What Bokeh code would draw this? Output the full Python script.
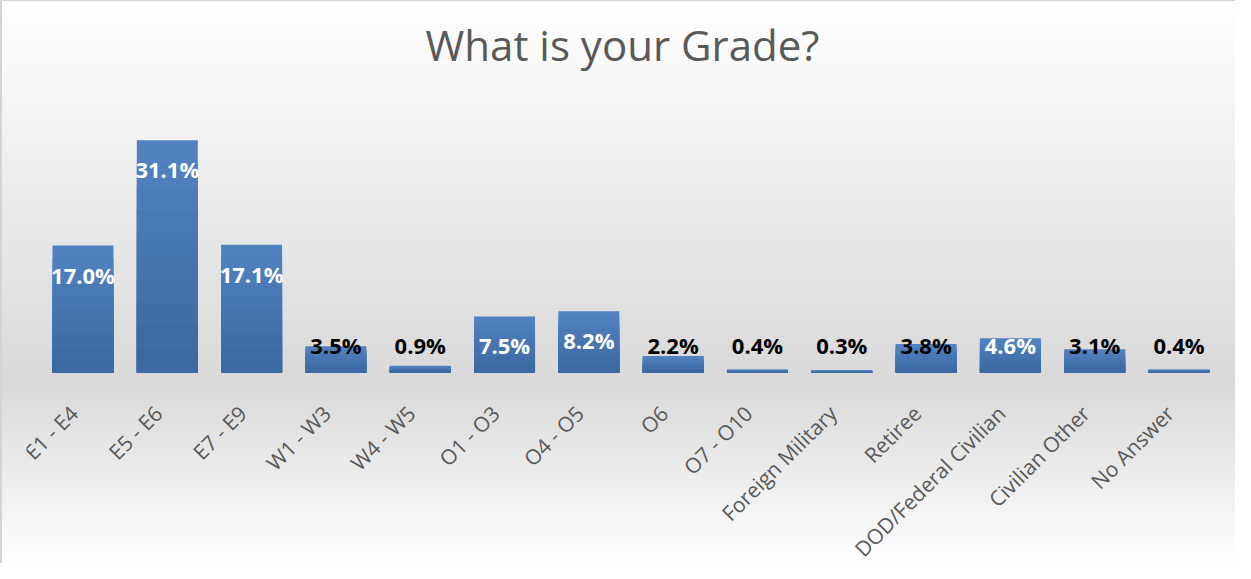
import math
from bokeh.plotting import figure
from bokeh.models import ColumnDataSource, LabelSet, Label, Range1d, FactorRange
from bokeh.core.properties import value
from bokeh.embed import file_html
from bokeh.resources import INLINE

# ---- data ----
categories = ["E1 - E4", "E5 - E6", "E7 - E9", "W1 - W3", "W4 - W5", "O1 - O3",
              "O4 - O5", "O6", "O7 - O10", "Foreign Military", "Retiree",
              "DOD/Federal Civilian", "Civilian Other", "No Answer"]
percent = [17.0, 31.1, 17.1, 3.5, 0.9, 7.5, 8.2, 2.2, 0.4, 0.3, 3.8, 4.6, 3.1, 0.4]
title_text = "What is your Grade?"

# ---- layout constants ----
W, H = 1235, 563
PX = 7.47            # pixels per percentage point
BASE = 191           # baseline distance from bottom of figure (px)
y_start = -BASE / PX
y_end = (H - BASE) / PX

value_labels = [f"{v:.1f}%" for v in percent]
label_y = [max(v - 38 / PX, 19 / PX) for v in percent]
label_color = ["white" if v >= 4.5 else "black" for v in percent]
cat_y = [-37 / PX] * len(categories)

src = ColumnDataSource(dict(cat=categories, pct=percent, label=value_labels,
                            label_y=label_y, label_color=label_color, cat_y=cat_y))

p = figure(x_range=FactorRange(*categories, range_padding=0.17,
                               range_padding_units="absolute"),
           y_range=Range1d(y_start, y_end),
           width=W, height=H, output_backend="svg", toolbar_location=None,
           min_border_left=26, min_border_right=0, min_border_top=0, min_border_bottom=0)
p.axis.visible = False
p.grid.visible = False
p.outline_line_color = None
p.background_fill_alpha = 0
p.border_fill_alpha = 0
p.styles = {
    "background": "linear-gradient(to bottom, #ffffff 0%, #d9d9d9 68%, #ffffff 100%)",
    "box-shadow": "inset 2px 1px 0 #d4d4d4",
}

# bars with a vertical gradient (light top -> darker bottom), built by layering
top_rgb = (0x51, 0x82, 0xbf)
bot_rgb = (0x3b, 0x69, 0xa2)
N = 10
for k in range(N):
    t = k / (N - 1)
    col = "#%02x%02x%02x" % tuple(round(a + (b - a) * t) for a, b in zip(top_rgb, bot_rgb))
    frac = 1 - k / N
    p.vbar(x=categories, top=[v * frac for v in percent], width=0.723,
           fill_color=col, line_color=None)

p.add_layout(LabelSet(x="cat", y="label_y", text="label", source=src,
                      text_align="center", text_baseline="alphabetic",
                      text_font=value("Open Sans"), text_font_style="bold",
                      text_font_size="22px", text_color="label_color"))

p.add_layout(LabelSet(x="cat", y="cat_y", text="cat", source=src,
                      angle=math.pi / 4, text_align="right", text_baseline="middle",
                      x_offset=-9,
                      text_font=value("Open Sans"), text_font_size="21px",
                      text_color="#595959"))

p.add_layout(Label(x=596, y=H - 44, x_units="screen", y_units="screen",
                   text=title_text, text_align="center", text_baseline="alphabetic",
                   text_font="Open Sans", text_font_size="42px",
                   text_color="#595959"))

open("out.html", "w").write(file_html(p, INLINE))
